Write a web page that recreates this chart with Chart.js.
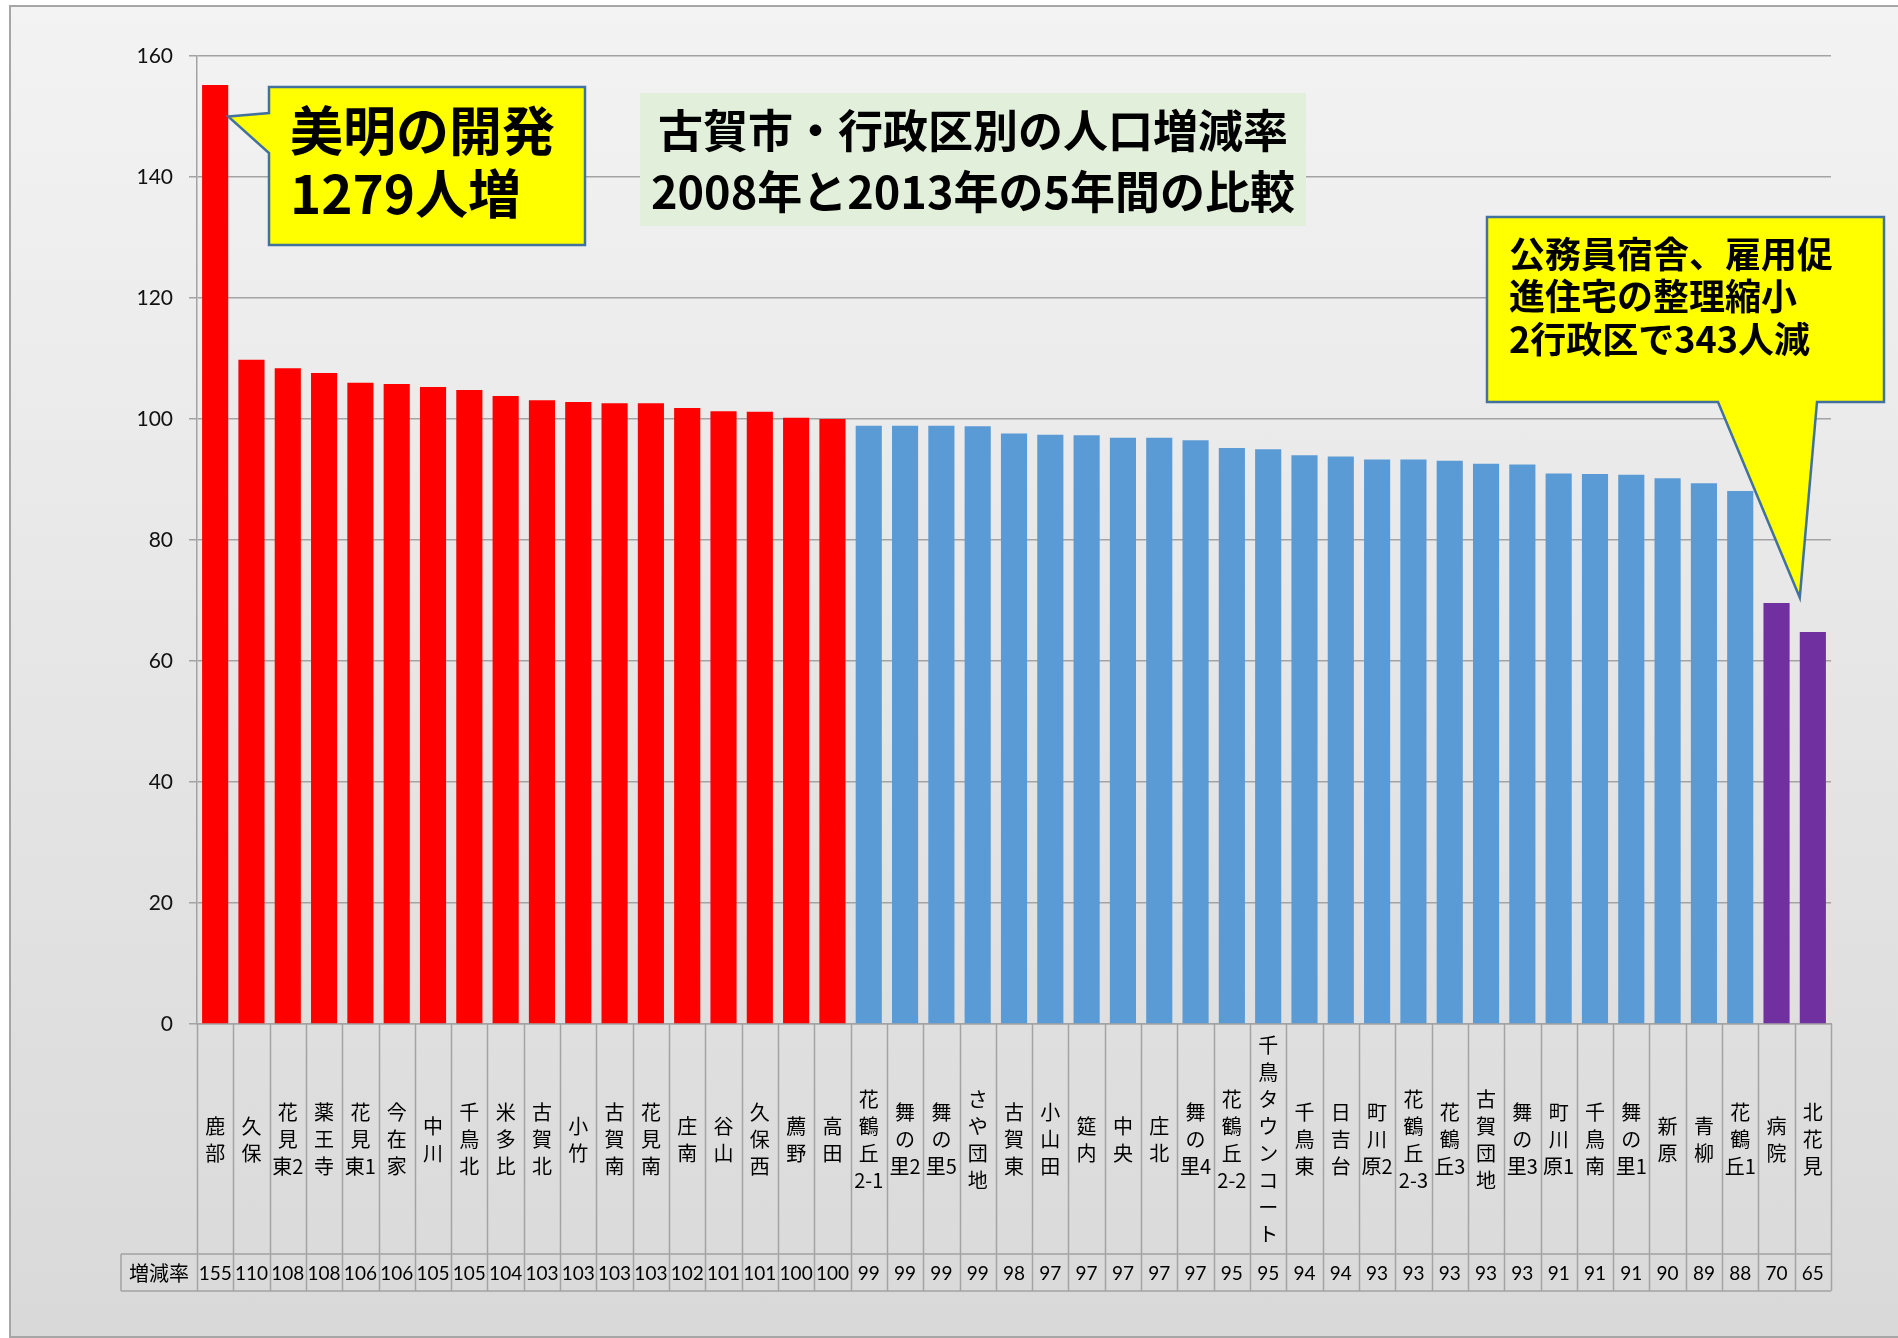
<!DOCTYPE html>
<html lang="ja">
<head>
<meta charset="utf-8">
<title>古賀市・行政区別の人口増減率</title>
<script src="https://cdn.jsdelivr.net/npm/chart.js@4.4.1/dist/chart.umd.min.js"></script>
<style>
  html, body { margin: 0; padding: 0; background: #fff; overflow: hidden; }
  #frame {
    position: absolute; left: 9px; top: 5px; width: 1900px; height: 1329px;
    border: 2px solid #a6a6a6;
    background: linear-gradient(#f3f3f3, #d9d9d9);
  }
  #chart { position: absolute; left: 0; top: 0; }
</style>
</head>
<body>
<div id="frame"></div>
<canvas id="chart" width="1898" height="1338"></canvas>
<script>
// district names, a space marks a line break in the stacked label
const districts = [
  "鹿 部", "久 保", "花 見 東2", "薬 王 寺", "花 見 東1", "今 在 家", "中 川", "千 鳥 北", "米 多 比",
  "古 賀 北", "小 竹", "古 賀 南", "花 見 南", "庄 南", "谷 山", "久 保 西", "薦 野", "高 田",
  "花 鶴 丘 2-1", "舞 の 里2", "舞 の 里5", "さ や 団 地", "古 賀 東", "小 山 田", "筵 内", "中 央",
  "庄 北", "舞 の 里4", "花 鶴 丘 2-2", "千 鳥 タ ウ ン コ ー ト", "千 鳥 東", "日 吉 台", "町 川 原2",
  "花 鶴 丘 2-3", "花 鶴 丘3", "古 賀 団 地", "舞 の 里3", "町 川 原1", "千 鳥 南", "舞 の 里1",
  "新 原", "青 柳", "花 鶴 丘1", "病 院", "北 花 見"
];

// 増減率 (2013 / 2008 x 100)
const rates = [
  155.2, 109.8, 108.4, 107.6, 106.0, 105.8, 105.3, 104.8, 103.8,
  103.1, 102.8, 102.6, 102.6, 101.8, 101.3, 101.2, 100.2, 100.0,
  98.9, 98.9, 98.9, 98.8, 97.6, 97.4, 97.3, 96.9,
  96.9, 96.5, 95.2, 95.0, 94.0, 93.8, 93.3,
  93.3, 93.1, 92.6, 92.5, 91.0, 90.9, 90.8,
  90.2, 89.4, 88.1, 69.6, 64.8
];

const yMin = 0;
const yMax = 160;
const yStep = 20;

const rowTitle = "増減率";
const titleLines = ["古賀市・行政区別の人口増減率", "2008年と2013年の5年間の比較"];
const noteUp = ["美明の開発", "1279人増"];
const noteDown = ["公務員宿舎、雇用促", "進住宅の整理縮小", "2行政区で343人減"];

const RED = "#ff0000";
const BLUE = "#5b9bd5";
const PURPLE = "#7030a0";
const LINE = "#a3a3a3";
const JP = '"Noto Sans CJK JP", sans-serif';

function barColor(v, i) {
  if (v >= 100) return RED;
  if (i >= rates.length - 2) return PURPLE;
  return BLUE;
}


// table under the axis: cell borders and the rounded values
const tablePlugin = {
  id: "table",
  afterDraw(chart) {
    const { ctx, chartArea } = chart;
    const x = chart.scales.x;
    const n = rates.length;
    const w = chartArea.width / n;
    const top = chartArea.bottom;
    const catBottom = top + 230;
    const rowBottom = catBottom + 37;
    const left0 = chartArea.left - 76;

    ctx.save();
    ctx.strokeStyle = LINE;
    ctx.lineWidth = 1.5;
    ctx.beginPath();
    for (let i = 0; i <= n; i++) {
      const px = Math.round(x.getPixelForValue(i) - w / 2) + 0.5;
      ctx.moveTo(px, top);
      ctx.lineTo(px, rowBottom);
    }
    ctx.moveTo(left0, catBottom);
    ctx.lineTo(chartArea.right, catBottom);
    ctx.moveTo(left0, rowBottom);
    ctx.lineTo(chartArea.right, rowBottom);
    ctx.moveTo(left0, catBottom);
    ctx.lineTo(left0, rowBottom);
    ctx.stroke();

    ctx.fillStyle = "#000";
    ctx.textAlign = "center";
    ctx.textBaseline = "middle";
    const midY = (catBottom + rowBottom) / 2;
    ctx.font = "20px " + JP;
    ctx.fillText(rowTitle, (left0 + chartArea.left) / 2, midY + 1);
    ctx.font = "19px Lato, sans-serif";
    rates.forEach((v, i) => {
      ctx.fillText(String(Math.round(v)), x.getPixelForValue(i), midY + 1);
    });
    ctx.restore();
  },
};


function callout(ctx, box, tail) {
  const { x, y, w, h } = box;
  ctx.beginPath();
  ctx.moveTo(x, y);
  ctx.lineTo(x + w, y);
  ctx.lineTo(x + w, y + h);
  if (tail.side === "bottom") {
    ctx.lineTo(tail.b, y + h);
    ctx.lineTo(tail.tip[0], tail.tip[1]);
    ctx.lineTo(tail.a, y + h);
    ctx.lineTo(x, y + h);
  } else {
    ctx.lineTo(x, y + h);
    ctx.lineTo(x, tail.b);
    ctx.lineTo(tail.tip[0], tail.tip[1]);
    ctx.lineTo(x, tail.a);
  }
  ctx.closePath();
  ctx.fillStyle = "#ffff00";
  ctx.fill();
  ctx.strokeStyle = "#41719c";
  ctx.lineWidth = 2.5;
  ctx.stroke();
}


// title box and the two yellow callouts
const notesPlugin = {
  id: "notes",
  afterDatasetsDraw(chart) {
    const { ctx } = chart;
    const y = chart.scales.y;
    const bars = chart.getDatasetMeta(0).data;
    const first = bars[0];
    const last = bars[bars.length - 1];

    ctx.save();

    // title
    ctx.fillStyle = "#e2efda";
    ctx.fillRect(640, 93, 666, 133);
    ctx.fillStyle = "#000";
    ctx.textAlign = "center";
    ctx.textBaseline = "middle";
    ctx.font = "bold 45px " + JP;
    ctx.fillText(titleLines[0], 973, 131);
    ctx.fillText(titleLines[1], 973, 192);

    // growth note, tail to the first bar
    callout(ctx, { x: 269, y: 87, w: 316, h: 158 }, {
      side: "left", a: 113, b: 153,
      tip: [first.x + first.width / 2, y.getPixelForValue(150)],
    });
    ctx.fillStyle = "#000";
    ctx.textAlign = "left";
    ctx.font = "bold 53px " + JP;
    ctx.fillText(noteUp[0], 290, 131);
    ctx.fillText(noteUp[1], 290, 194);

    // decrease note, tail to the last bars
    callout(ctx, { x: 1487, y: 217, w: 397, h: 185 }, {
      side: "bottom", a: 1718, b: 1817,
      tip: [last.x - last.width / 2, y.getPixelForValue(70.5)],
    });
    ctx.fillStyle = "#000";
    ctx.font = "bold 36px " + JP;
    ctx.fillText(noteDown[0], 1509, 254);
    ctx.fillText(noteDown[1], 1509, 296);
    ctx.fillText(noteDown[2], 1509, 339);

    ctx.restore();
  },
};


new Chart(document.getElementById("chart"), {
  type: "bar",
  data: {
    labels: districts.map((d) => d.split(" ")),
    datasets: [
      {
        label: rowTitle,
        data: rates,
        backgroundColor: rates.map(barColor),
        barPercentage: 0.72,
        categoryPercentage: 1.0,
      },
    ],
  },
  options: {
    responsive: false,
    animation: false,
    devicePixelRatio: 1,
    layout: { padding: { left: 107, right: 67, top: 56, bottom: 91 } },
    plugins: {
      legend: { display: false },
      tooltip: { enabled: false },
    },
    scales: {
      x: {
        grid: { display: false, drawTicks: false },
        border: { display: true, color: LINE, width: 1.5 },
        ticks: {
          autoSkip: false,
          maxRotation: 0,
          minRotation: 0,
          crossAlign: "center",
          padding: 21,
          color: "#000",
          font: { family: JP, size: 20, lineHeight: 1.35 },
        },
        afterFit: (s) => { s.height = 223; },
      },
      y: {
        min: yMin,
        max: yMax,
        ticks: {
          stepSize: yStep,
          padding: 16,
          color: "#111",
          font: { family: "Lato, sans-serif", size: 21 },
        },
        grid: { color: LINE, lineWidth: 1.5, tickLength: 8 },
        border: { color: LINE, width: 1.5 },
        afterFit: (s) => { s.width = 90; },
      },
    },
  },
  plugins: [tablePlugin, notesPlugin],
});
</script>
</body>
</html>
